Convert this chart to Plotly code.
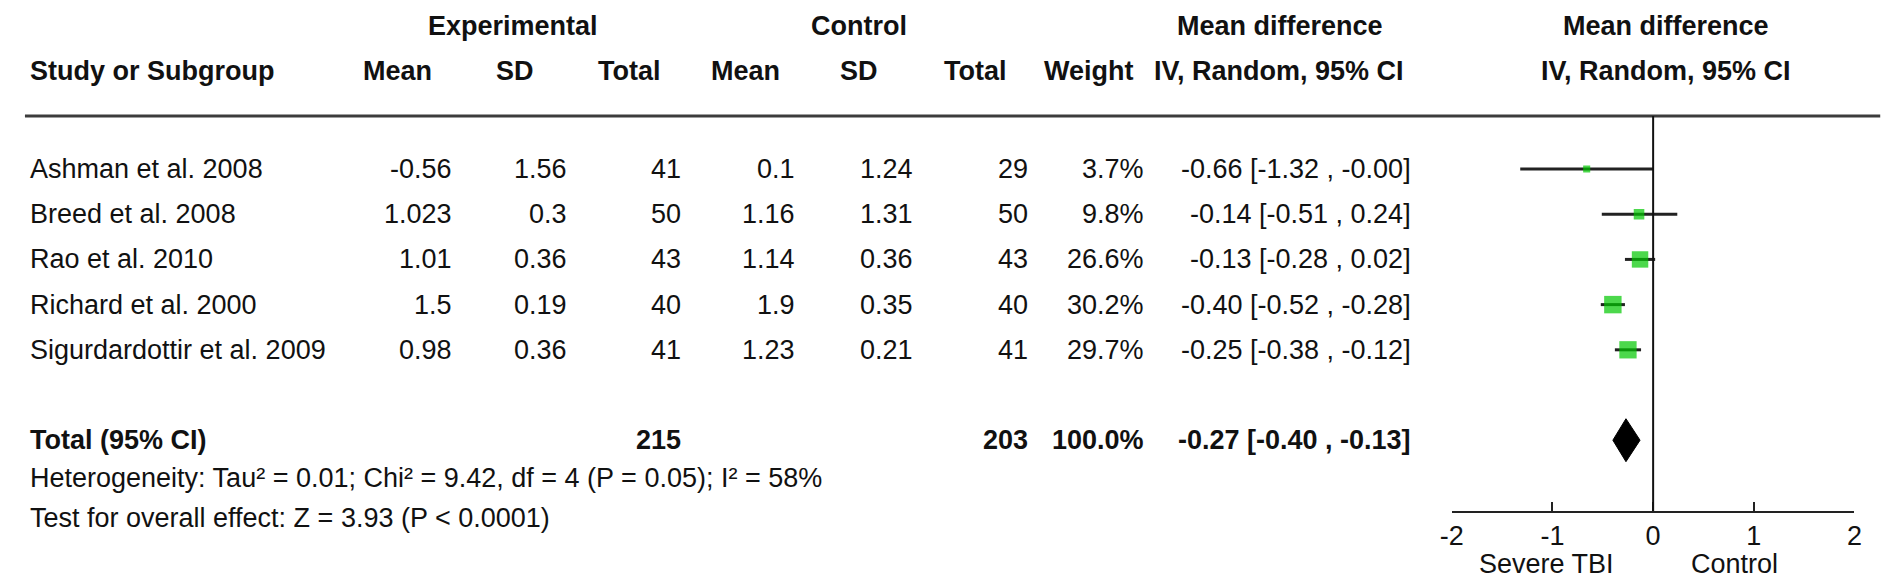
import plotly.graph_objects as go

# ---------------- data ----------------
studies = ["Ashman et al. 2008", "Breed et al. 2008", "Rao et al. 2010",
           "Richard et al. 2000", "Sigurdardottir et al. 2009"]
exp_mean = [-0.56, 1.023, 1.01, 1.5, 0.98]
exp_sd = [1.56, 0.3, 0.36, 0.19, 0.36]
exp_n = [41, 50, 43, 40, 41]
ctl_mean = [0.1, 1.16, 1.14, 1.9, 1.23]
ctl_sd = [1.24, 1.31, 0.36, 0.35, 0.21]
ctl_n = [29, 50, 43, 40, 41]
weight = [3.7, 9.8, 26.6, 30.2, 29.7]
md = [-0.66, -0.14, -0.13, -0.40, -0.25]
ci_lo = [-1.32, -0.51, -0.28, -0.52, -0.38]
ci_hi = [-0.0, 0.24, 0.02, -0.28, -0.12]

total_label = "Total (95% CI)"
total_exp_n = 215
total_ctl_n = 203
total_weight = 100.0
total_md = -0.27
total_lo = -0.40
total_hi = -0.13

heterogeneity = "Heterogeneity: Tau² = 0.01; Chi² = 9.42, df = 4 (P = 0.05); I² = 58%"
overall = "Test for overall effect: Z = 3.93 (P < 0.0001)"
tick_vals = [-2, -1, 0, 1, 2]
tick_text = ["-2", "-1", "0", "1", "2"]
favours_left = "Severe TBI"
favours_right = "Control"

# ---------------- layout constants ----------------
W, H = 1901, 580
FONT = "Liberation Sans, Arial, sans-serif"
FS = 27
TXT = "#111111"
GREEN = "#00c800"
LINE = "#222222"


def px(x):
    return x / W


def py(y):
    return 1 - y / H


rows = list(range(len(studies)))
total_row = len(studies) + 1

fig = go.Figure()

# CI whiskers
xs, ys = [], []
for r, lo, hi in zip(rows, ci_lo, ci_hi):
    xs += [lo, hi, None]
    ys += [r, r, None]
fig.add_trace(go.Scatter(x=xs, y=ys, mode="lines",
                         line=dict(color=LINE, width=3),
                         hoverinfo="skip", showlegend=False))

# study squares (size by weight)
fig.add_trace(go.Scatter(
    x=md, y=rows, mode="markers",
    marker=dict(symbol="square", color=GREEN,
                size=[2.9 * w ** 0.5 + 1.5 for w in weight],
                line=dict(width=0)),
    showlegend=False))

# pooled diamond
hh = 0.475
fig.add_trace(go.Scatter(
    x=[total_lo, total_md, total_hi, total_md, total_lo],
    y=[total_row, total_row - hh, total_row, total_row + hh, total_row],
    mode="lines", fill="toself", fillcolor="#000000",
    line=dict(color="#000000", width=1), showlegend=False))

annotations = []


def add(text, x, y, anchor="right", yref="y", bold=False, size=FS,
        yanchor="middle", pad=1):
    annotations.append(dict(
        text=f"<b>{text}</b>" if bold else text,
        x=px(x), xref="paper", y=y if yref == "y" else py(y), yref=yref,
        xanchor=anchor, yanchor=yanchor, showarrow=False, borderpad=pad,
        font=dict(family=FONT, size=size, color=TXT)))


# headers
add("Experimental", 498, 18, "center", "paper", True)
add("Control", 848, 18, "center", "paper", True)
add("Mean difference", 1273, 18, "center", "paper", True)
add("Mean difference", 1663, 18, "center", "paper", True)
add("Study or Subgroup", 8, 63, "left", "paper", True)
for label, cx in [("Mean", 382), ("SD", 500), ("Total", 616), ("Mean", 733),
                  ("SD", 848), ("Total", 966), ("Weight", 1080)]:
    add(label, cx, 63, "center", "paper", True)
add("IV, Random, 95% CI", 1272, 63, "center", "paper", True)
add("IV, Random, 95% CI", 1663, 63, "center", "paper", True)

# study rows
for i, r in enumerate(rows):
    add(studies[i], 8, r, "left")
    add(str(exp_mean[i]), 439, r)
    add(str(exp_sd[i]), 555, r)
    add(str(exp_n[i]), 670, r)
    add(str(ctl_mean[i]), 785, r)
    add(str(ctl_sd[i]), 905, r)
    add(str(ctl_n[i]), 1021, r)
    add(f"{weight[i]:.1f}%", 1138, r)
    add(f"{md[i]:.2f} [{ci_lo[i]:.2f} , {ci_hi[i]:.2f}]", 1408, r)

# total row
add(total_label, 8, total_row, "left", bold=True)
add(str(total_exp_n), 670, total_row, bold=True)
add(str(total_ctl_n), 1021, total_row, bold=True)
add(f"{total_weight:.1f}%", 1138, total_row, bold=True)
add(f"{total_md:.2f} [{total_lo:.2f} , {total_hi:.2f}]", 1408, total_row, bold=True)

add(heterogeneity, 8, 470, "left", "paper")
add(overall, 8, 510, "left", "paper")
add(favours_left, 1543, 556, "center", "paper", pad=0)
add(favours_right, 1733, 556, "center", "paper", pad=0)

shapes = [
    dict(type="line", xref="paper", yref="paper", x0=px(5), x1=px(1880),
         y0=py(108), y1=py(108), line=dict(color="#3c3c3c", width=3)),
    dict(type="line", xref="x", yref="y domain", x0=0, x1=0, y0=0, y1=1,
         line=dict(color="#111111", width=2)),
]

fig.update_layout(
    width=W, height=H,
    margin=dict(l=0, r=0, t=0, b=0),
    paper_bgcolor="white", plot_bgcolor="white",
    annotations=annotations, shapes=shapes,
    xaxis=dict(domain=[px(1447), px(1854)], range=[-2, 2], anchor="y",
               tickvals=tick_vals, ticktext=tick_text,
               ticks="inside", ticklen=9, tickwidth=2, tickcolor="#222222",
               showline=True, linewidth=2, linecolor="#222222",
               showgrid=False, zeroline=False, ticklabelstandoff=0,
               tickfont=dict(family=FONT, size=FS, color=TXT)),
    yaxis=dict(domain=[py(503), py(108)], range=[7.566, -1.1726],
               visible=False, showgrid=False, zeroline=False),
    showlegend=False,
)

fig.write_html("out.html")
